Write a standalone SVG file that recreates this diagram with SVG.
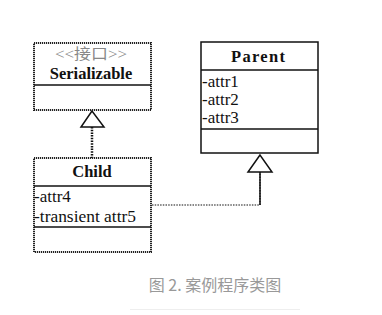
<svg xmlns="http://www.w3.org/2000/svg" width="382" height="315" viewBox="0 0 382 315">
<style>
.box{fill:#fff;stroke:#111;stroke-width:1.5}
.dot{fill:#fff;stroke:#222;stroke-width:2;stroke-dasharray:1.2 0.8}
.div{stroke:#111;stroke-width:1.5}
.t{font-family:"Liberation Serif","Times New Roman",serif;font-size:17px;fill:#111}
.b{font-size:16.5px;font-weight:bold;text-anchor:middle}
.st{font-family:"Liberation Serif","Noto Sans CJK SC",serif;font-size:15px;fill:#888;text-anchor:middle}
.cap{font-family:"Noto Sans CJK SC","Noto Sans",sans-serif;font-size:16px;fill:#999;text-anchor:middle}
.tri{fill:#fff;stroke:#111;stroke-width:1.5}
</style>
<rect width="382" height="315" fill="#fff"/>
<g id="connectors">
<line x1="92" y1="127" x2="92" y2="158" stroke="#111" stroke-width="2.5" stroke-dasharray="1.5 1.2"/>
<polygon class="tri" points="92,111 81,127 104,127"/>
<polyline points="152,205 260,205 260,172" fill="none" stroke="#111" stroke-width="1.2" stroke-dasharray="1.5 1.2"/>
<line x1="260" y1="172" x2="260" y2="205" stroke="#111" stroke-width="1.5"/>
<polygon class="tri" points="260,155 248,172 272,172"/>
</g>
<g id="serializable">
<rect class="dot" x="34" y="43" width="117" height="67"/>
<line class="div" x1="34" y1="85" x2="151" y2="85"/>
<text class="st" x="91" y="59" textLength="72" lengthAdjust="spacingAndGlyphs">&lt;&lt;接口&gt;&gt;</text>
<text class="t b" x="91" y="79">Serializable</text>
</g>
<g id="child">
<rect class="dot" x="34" y="158" width="117" height="94"/>
<line class="div" x1="34" y1="186" x2="151" y2="186"/>
<line class="div" x1="34" y1="227" x2="151" y2="227"/>
<text class="t b" x="92" y="177">Child</text>
<text class="t" x="34" y="202">-attr4</text>
<text class="t" x="34" y="222" textLength="102" lengthAdjust="spacingAndGlyphs">-transient attr5</text>
</g>
<g id="parent">
<rect class="box" x="201" y="42" width="117" height="111"/>
<line class="div" x1="201" y1="70" x2="318" y2="70"/>
<line class="div" x1="201" y1="129" x2="318" y2="129"/>
<text class="t b" x="258" y="62" textLength="54" lengthAdjust="spacing">Parent</text>
<text class="t" x="202" y="87">-attr1</text>
<text class="t" x="202" y="105">-attr2</text>
<text class="t" x="202" y="123">-attr3</text>
</g>
<text class="cap" x="215" y="291">图 2. 案例程序类图</text>
<line x1="130" y1="309.5" x2="300" y2="309.5" stroke="#eee" stroke-width="1"/>
</svg>
